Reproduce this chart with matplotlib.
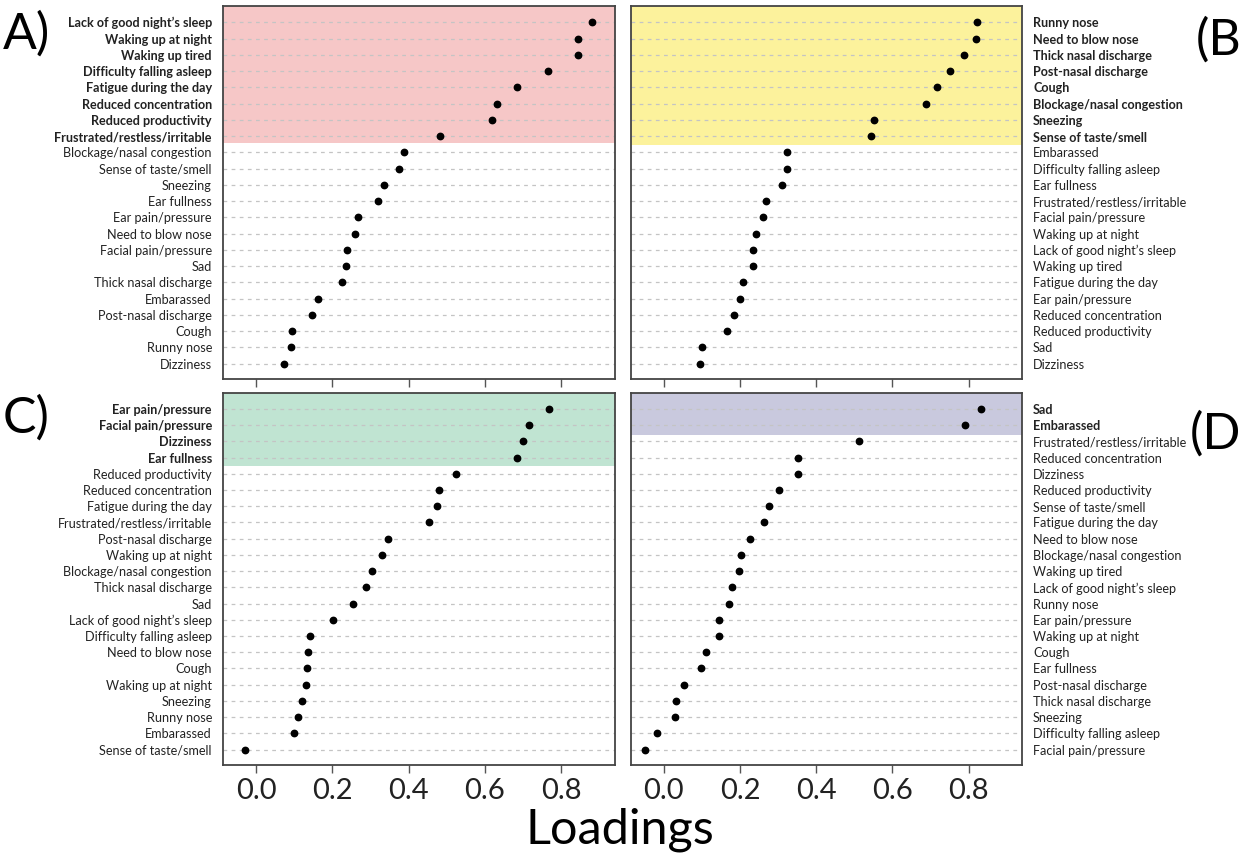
import numpy as np
import matplotlib
matplotlib.use('Agg')
import matplotlib.pyplot as plt
from matplotlib.ticker import FormatStrFormatter

plt.rcParams['font.family'] = ['Lato', 'DejaVu Sans']

# Panel A - sleep / function factor
a_labels = ['Lack of good night’s sleep', 'Waking up at night', 'Waking up tired',
            'Difficulty falling asleep', 'Fatigue during the day', 'Reduced concentration',
            'Reduced productivity', 'Frustrated/restless/irritable',
            'Blockage/nasal congestion', 'Sense of taste/smell', 'Sneezing', 'Ear fullness',
            'Ear pain/pressure', 'Need to blow nose', 'Facial pain/pressure', 'Sad',
            'Thick nasal discharge', 'Embarassed', 'Post-nasal discharge', 'Cough',
            'Runny nose', 'Dizziness']
a_values = [0.881, 0.845, 0.844, 0.766, 0.684, 0.632, 0.618, 0.482,
            0.387, 0.376, 0.335, 0.319, 0.266, 0.259, 0.238, 0.235,
            0.225, 0.163, 0.146, 0.095, 0.092, 0.072]
a_bold = 8

# Panel B - nasal factor
b_labels = ['Runny nose', 'Need to blow nose', 'Thick nasal discharge', 'Post-nasal discharge',
            'Cough', 'Blockage/nasal congestion', 'Sneezing', 'Sense of taste/smell',
            'Embarassed', 'Difficulty falling asleep', 'Ear fullness',
            'Frustrated/restless/irritable', 'Facial pain/pressure', 'Waking up at night',
            'Lack of good night’s sleep', 'Waking up tired', 'Fatigue during the day',
            'Ear pain/pressure', 'Reduced concentration', 'Reduced productivity', 'Sad',
            'Dizziness']
b_values = [0.822, 0.818, 0.788, 0.752, 0.718, 0.687, 0.551, 0.544,
            0.324, 0.323, 0.310, 0.267, 0.260, 0.241, 0.235, 0.234,
            0.207, 0.199, 0.184, 0.167, 0.100, 0.096]
b_bold = 8

# Panel C - ear / facial factor
c_labels = ['Ear pain/pressure', 'Facial pain/pressure', 'Dizziness', 'Ear fullness',
            'Reduced productivity', 'Reduced concentration', 'Fatigue during the day',
            'Frustrated/restless/irritable', 'Post-nasal discharge', 'Waking up at night',
            'Blockage/nasal congestion', 'Thick nasal discharge', 'Sad',
            'Lack of good night’s sleep', 'Difficulty falling asleep', 'Need to blow nose',
            'Cough', 'Waking up at night', 'Sneezing', 'Runny nose', 'Embarassed',
            'Sense of taste/smell']
c_values = [0.768, 0.717, 0.700, 0.684, 0.523, 0.479, 0.475, 0.454,
            0.346, 0.330, 0.303, 0.289, 0.254, 0.201, 0.142, 0.137,
            0.133, 0.132, 0.121, 0.110, 0.098, -0.029]
c_bold = 4

# Panel D - emotional factor
d_labels = ['Sad', 'Embarassed', 'Frustrated/restless/irritable', 'Reduced concentration',
            'Dizziness', 'Reduced productivity', 'Sense of taste/smell', 'Fatigue during the day',
            'Need to blow nose', 'Blockage/nasal congestion', 'Waking up tired',
            'Lack of good night’s sleep', 'Runny nose', 'Ear pain/pressure',
            'Waking up at night', 'Cough', 'Ear fullness', 'Post-nasal discharge',
            'Thick nasal discharge', 'Sneezing', 'Difficulty falling asleep',
            'Facial pain/pressure']
d_values = [0.832, 0.791, 0.511, 0.352, 0.351, 0.303, 0.277, 0.262,
            0.225, 0.202, 0.198, 0.178, 0.171, 0.146, 0.145, 0.111,
            0.098, 0.052, 0.032, 0.030, -0.019, -0.050]
d_bold = 2

xticks = [0.0, 0.2, 0.4, 0.6, 0.8]

W, H = 1244, 863
fig = plt.figure(figsize=(W / 100, H / 100), dpi=100)

def box(x0, y0, x1, y1):
    # pixel box -> figure fraction
    return [x0 / W, 1 - y1 / H, (x1 - x0) / W, (y1 - y0) / H]

panels = [
    (a_labels, a_values, a_bold, 0.40, '#f6c7c7', box(223, 6, 614.5, 379), 'left', True),
    (b_labels, b_values, b_bold, 0.53, '#fcf29c', box(630.7, 6, 1022, 379), 'right', True),
    (c_labels, c_values, c_bold, 0.49, '#c0e4d2', box(223, 392.7, 614.5, 765), 'left', False),
    (d_labels, d_values, d_bold, 0.58, '#c9c9de', box(630.7, 392.7, 1022, 765), 'right', False),
]

for labels, values, nbold, extra, color, rect, side, top in panels:
    ax = fig.add_axes(rect)
    y = np.arange(len(labels))
    ax.axhspan(-1.5, nbold - 1 + extra, color=color, lw=0, zorder=0)
    for yy in y:
        ax.axhline(yy, color='#c4c4c4', lw=0.9, ls=(0, (3, 3.5)), zorder=1)
    ax.plot(values, y, 'o', color='black', ms=4.6, zorder=3)
    ax.set_xlim(-0.087, 0.94)
    ax.set_ylim(21.95, -1.0)
    ax.set_yticks(y)
    ax.set_yticklabels(labels)
    if side == 'right':
        ax.yaxis.tick_right()
    ax.tick_params(axis='y', length=0, pad=8, labelsize=9.1, labelcolor='#222222')
    # first rows of each panel are the factor's items, shown bold
    for i, tick in enumerate(ax.yaxis.get_major_ticks()):
        if i < nbold:
            tick.label1.set_fontweight('bold')
            tick.label2.set_fontweight('bold')
    ax.set_xticks(xticks)
    ax.xaxis.set_major_formatter(FormatStrFormatter('%.1f'))
    ax.tick_params(axis='x', length=6, width=1, color='#555555', labelsize=21,
                   pad=3, labelcolor='#222222')
    if top:
        ax.tick_params(axis='x', labelbottom=False)
    for s in ax.spines.values():
        s.set_color('#444444')
        s.set_linewidth(1.3)

fig.text(3 / W, 1 - 34 / H, 'A)', fontsize=36, va='center', ha='left')
fig.text(1241 / W, 1 - 40 / H, '(B', fontsize=36, va='center', ha='right')
fig.text(3 / W, 1 - 418 / H, 'C)', fontsize=36, va='center', ha='left')
fig.text(1241 / W, 1 - 434 / H, '(D', fontsize=36, va='center', ha='right')
fig.text(620 / W, 1 - 830 / H, 'Loadings', fontsize=35, va='center', ha='center')

fig.savefig('out.png', dpi=100)
